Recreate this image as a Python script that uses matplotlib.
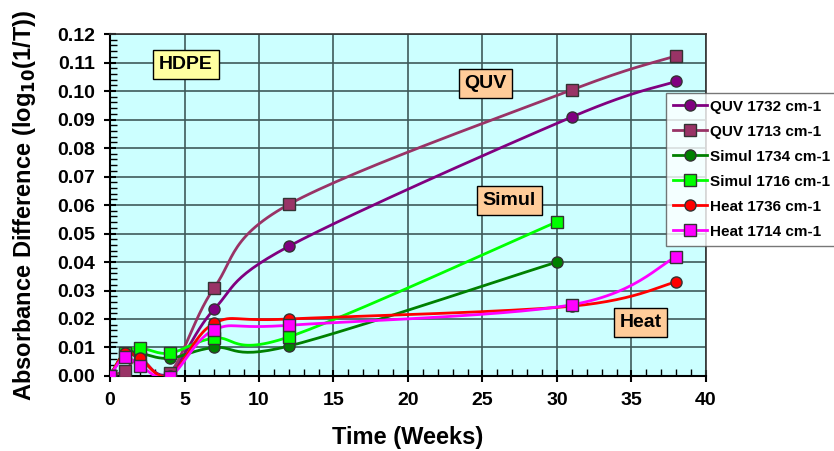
import numpy as np
import matplotlib
matplotlib.use("Agg")
import matplotlib.pyplot as plt
from matplotlib.ticker import MultipleLocator, FormatStrFormatter

plt.rcParams["font.family"] = ["Liberation Sans", "DejaVu Sans"]
plt.rcParams["font.weight"] = "bold"

# weeks of measurement
weeks_quv = [0, 1, 2, 4, 7, 12, 31, 38]
weeks_simul = [0, 1, 2, 4, 7, 12, 30]
weeks_heat = [0, 1, 2, 4, 7, 12, 31, 38]

quv_1732 = [0.0, 0.0080, 0.0060, 0.0010, 0.0235, 0.0455, 0.0909, 0.1034]
quv_1713 = [0.0, 0.0019, 0.0062, 0.0010, 0.0310, 0.0602, 0.1004, 0.1123]
simul_1734 = [0.0, 0.0082, 0.0080, 0.0062, 0.0100, 0.0105, 0.0400]
simul_1716 = [0.0, 0.0080, 0.0098, 0.0080, 0.0133, 0.0137, 0.0541]
heat_1736 = [0.0, 0.0080, 0.0062, 0.0000, 0.0185, 0.0200, 0.0245, 0.0330]
heat_1714 = [0.0, 0.0068, 0.0036, -0.0002, 0.0162, 0.0178, 0.0250, 0.0418]

series = [
    ("QUV 1732 cm-1", weeks_quv, quv_1732, "#800080", "o"),
    ("QUV 1713 cm-1", weeks_quv, quv_1713, "#993366", "s"),
    ("Simul 1734 cm-1", weeks_simul, simul_1734, "#008000", "o"),
    ("Simul 1716 cm-1", weeks_simul, simul_1716, "#00FF00", "s"),
    ("Heat 1736 cm-1", weeks_heat, heat_1736, "#FF0000", "o"),
    ("Heat 1714 cm-1", weeks_heat, heat_1714, "#FF00FF", "s"),
]

labels = [("HDPE", 5.1, 0.1092, "#FFFFA0"),
          ("QUV", 25.2, 0.1026, "#FFCC99"),
          ("Simul", 26.8, 0.0615, "#FFCC99"),
          ("Heat", 35.6, 0.0187, "#FFCC99")]


def smooth_curve(x, y, n=30):
    """Excel-like smoothed line: Bezier segments with Catmull-Rom control points."""
    x = np.asarray(x, float)
    y = np.asarray(y, float)
    px = np.concatenate([[x[0]], x, [x[-1]]])
    py = np.concatenate([[y[0]], y, [y[-1]]])
    t = np.linspace(0, 1, n)[:, None]
    xs, ys = [], []
    for i in range(1, len(px) - 2):
        p0 = np.array([px[i], py[i]])
        p3 = np.array([px[i + 1], py[i + 1]])
        c1 = p0 + (np.array([px[i + 1], py[i + 1]]) - np.array([px[i - 1], py[i - 1]])) / 6
        c2 = p3 - (np.array([px[i + 2], py[i + 2]]) - np.array([px[i], py[i]])) / 6
        pts = ((1 - t) ** 3 * p0 + 3 * (1 - t) ** 2 * t * c1
               + 3 * (1 - t) * t ** 2 * c2 + t ** 3 * p3)
        xs.append(pts[:, 0])
        ys.append(pts[:, 1])
    return np.concatenate(xs), np.concatenate(ys)


fig = plt.figure(figsize=(8.34, 4.51), dpi=100)
ax = fig.add_axes([0.1319, 0.1663, 0.7146, 0.7583])
ax.set_facecolor("#CCFFFF")

for name, wx, wy, color, marker in series:
    sx, sy = smooth_curve(wx, wy)
    ax.plot(sx, sy, color=color, lw=2, zorder=3)
    ax.plot(wx, wy, linestyle="none", marker=marker, markersize=8,
            markerfacecolor=color, markeredgecolor="#333333", markeredgewidth=1,
            zorder=4)
    # legend proxy
    ax.plot([], [], color=color, lw=2, marker=marker, markersize=8,
            markerfacecolor=color, markeredgecolor="#333333", label=name)

for text, x, y, fc in labels:
    ax.text(x, y, text, ha="center", va="center", fontsize=14, fontweight="bold",
            zorder=5,
            bbox=dict(boxstyle="square,pad=0.3", fc=fc, ec="black", lw=1))

ax.set_xlim(0, 40)
ax.set_ylim(0, 0.12)
ax.xaxis.set_major_locator(MultipleLocator(5))
ax.xaxis.set_minor_locator(MultipleLocator(1))
ax.yaxis.set_major_locator(MultipleLocator(0.01))
ax.yaxis.set_minor_locator(MultipleLocator(0.002))
ax.yaxis.set_major_formatter(FormatStrFormatter("%.2f"))
ax.tick_params(which="major", direction="inout", length=9, width=1.5,
               labelsize=14)
ax.tick_params(axis="x", which="major", pad=7)
ax.tick_params(axis="y", which="major", pad=6)
ax.tick_params(which="minor", direction="in", length=5, width=1)
ax.grid(True, which="major", color="#3f5a5a", lw=1.2, zorder=1)
ax.set_axisbelow(True)

for side in ["left", "bottom"]:
    ax.spines[side].set_linewidth(1.5)
for side in ["top", "right"]:
    ax.spines[side].set_linewidth(1.2)
    ax.spines[side].set_color("#333333")

ax.set_xlabel("Time (Weeks)", fontsize=17, fontweight="bold", labelpad=12)
ax.set_ylabel("Absorbance Difference (log$_{10}$(1/T))", fontsize=17,
              fontweight="bold", labelpad=14)

leg = ax.legend(loc="upper left", bbox_to_anchor=(0.7986, 0.794),
                bbox_transform=fig.transFigure, borderaxespad=0,
                frameon=True, fancybox=False,
                prop=dict(size=11, weight="bold"), handlelength=2.2,
                borderpad=0.45, labelspacing=0.72, handletextpad=0.2)
leg.get_frame().set_edgecolor("#555555")
leg.get_frame().set_linewidth(1)
leg.set_zorder(10)

fig.savefig("out.png", dpi=100)
